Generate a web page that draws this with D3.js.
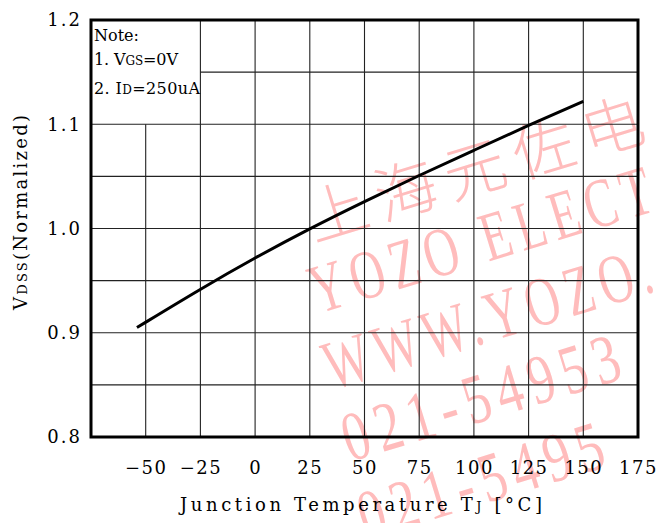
<!DOCTYPE html>
<html>
<head>
<meta charset="utf-8">
<script src="https://cdn.jsdelivr.net/npm/d3@7/dist/d3.min.js"></script>
<style>
  html, body { margin: 0; padding: 0; background: #fff; }
  svg { display: block; }
</style>
</head>
<body>
<svg id="chart" width="666" height="523"></svg>
<script>
// ---- data ----
const tempTicks = [-50, -25, 0, 25, 50, 75, 100, 125, 150, 175];
const vdssTicks = [0.8, 0.9, 1.0, 1.1, 1.2];
const gridTemps = [-50, -25, 0, 25, 50, 75, 100, 125, 150];
const gridVdss = [0.85, 0.9, 0.95, 1.0, 1.05, 1.1, 1.15];
const curveTemp = [-54, -25, 0, 25, 50, 75, 100, 125, 150];
const curveVdss = [0.905, 0.942, 0.972, 1.0, 1.026, 1.051, 1.075, 1.099, 1.122];
const noteLines = ["Note:", "1. V|GS|=0V", "2. I|D|=250uA"];
const watermarkLines = ["上海元佐电", "YOZO ELECT", "WWW.YOZO.", "021-54953", "021-5495"];

// ---- layout ----
const W = 666, H = 523;
const plot = { left: 91, right: 638, top: 20, bottom: 437 };
const svg = d3.select("#chart");
const serif = "'DejaVu Serif', 'Liberation Serif', serif";

const x = d3.scaleLinear().domain([-75, 175]).range([plot.left, plot.right]);
const y = d3.scaleLinear().domain([0.8, 1.2]).range([plot.bottom, plot.top]);

// ---- watermark (behind) ----
const wm = svg.append("g").attr("fill", "#ffbcbc");
const wmPos = [[314, 242], [318, 314], [332, 390], [350, 462], [366, 540]];
const ang = 17, cosA = Math.cos(ang * Math.PI / 180);
watermarkLines.forEach((s, i) => {
  const isCJK = i === 0;
  const sx = isCJK ? 1 : 0.75;
  const t = wm.append("text")
    .attr("transform", `translate(${wmPos[i][0]},${wmPos[i][1]}) rotate(${-ang}) scale(${sx},1)`)
    .attr("font-family", isCJK ? "'Noto Sans CJK SC', sans-serif" : "'Liberation Serif', serif")
    .attr("font-size", isCJK ? 62 : 70)
    .attr("font-weight", isCJK ? 300 : 400)
    .attr("letter-spacing", isCJK ? 10 : 10)
    .text(s);
  const avail = (663 - wmPos[i][0]) / cosA / sx;
  const len = t.node().getComputedTextLength();
  if (len > avail) t.attr("textLength", avail).attr("lengthAdjust", "spacingAndGlyphs");
});

// ---- grid ----
const noteX = x(-25), noteY = y(1.1);
const grid = svg.append("g").attr("stroke", "#222").attr("stroke-width", 1.1);
gridTemps.forEach(t => {
  const top = (x(t) < noteX) ? noteY : plot.top;
  grid.append("line")
    .attr("x1", x(t)).attr("x2", x(t))
    .attr("y1", top).attr("y2", plot.bottom);
});
gridVdss.forEach(v => {
  const left = (y(v) < noteY) ? noteX : plot.left;
  grid.append("line")
    .attr("x1", left).attr("x2", plot.right)
    .attr("y1", y(v)).attr("y2", y(v));
});

// ---- curve ----
const pts = curveTemp.map((t, i) => [t, curveVdss[i]]);
svg.append("path")
  .datum(pts)
  .attr("fill", "none")
  .attr("stroke", "#000")
  .attr("stroke-width", 3)
  .attr("d", d3.line().x(d => x(d[0])).y(d => y(d[1])).curve(d3.curveBasis));

// ---- frame ----
svg.append("rect")
  .attr("x", plot.left).attr("y", plot.top)
  .attr("width", plot.right - plot.left).attr("height", plot.bottom - plot.top)
  .attr("fill", "none").attr("stroke", "#000").attr("stroke-width", 3);

// ---- axes ----
const xAxis = svg.append("g")
  .attr("transform", `translate(0,${plot.bottom})`)
  .call(d3.axisBottom(x).tickValues(tempTicks).tickSize(0).tickPadding(24)
    .tickFormat(d => (d < 0 ? "\u2212" : "") + Math.abs(d)));
xAxis.select(".domain").remove();
xAxis.selectAll("text")
  .attr("font-family", serif).attr("font-size", 18).attr("letter-spacing", 1.5)
  .attr("fill", "#000");

const yAxis = svg.append("g")
  .attr("transform", `translate(${plot.left},0)`)
  .call(d3.axisLeft(y).tickValues(vdssTicks).tickSize(0).tickPadding(9)
    .tickFormat(d3.format(".1f")));
yAxis.select(".domain").remove();
yAxis.selectAll("text")
  .attr("font-family", serif).attr("font-size", 18).attr("letter-spacing", 2)
  .attr("fill", "#000");

// ---- axis titles ----
const xt = svg.append("text")
  .attr("x", 180).attr("y", 511)
  .attr("font-family", serif).attr("font-size", 18)
  .attr("textLength", 362).attr("lengthAdjust", "spacing")
  .attr("fill", "#000");
xt.append("tspan").text("Junction Temperature T");
xt.append("tspan").attr("font-size", 13).text("J");
xt.append("tspan").text(" [°C]");

const yt = svg.append("text")
  .attr("transform", `translate(27,310) rotate(-90)`)
  .attr("font-family", serif).attr("font-size", 18)
  .attr("textLength", 195).attr("lengthAdjust", "spacing")
  .attr("fill", "#000");
yt.append("tspan").text("V");
yt.append("tspan").attr("font-size", 13).text("DSS");
yt.append("tspan").text("(Normalized)");

// ---- note ----
const noteBase = [41, 65, 94];
noteLines.forEach((s, i) => {
  const t = svg.append("text")
    .attr("x", 94).attr("y", noteBase[i])
    .attr("font-family", serif).attr("font-size", 16).attr("fill", "#000");
  s.split("|").forEach((part, j) => {
    t.append("tspan").attr("font-size", j === 1 ? 12 : 16).text(part);
  });
  if (i > 0) t.attr("textLength", i === 1 ? 84 : 106).attr("lengthAdjust", "spacing");
});
</script>
</body>
</html>
